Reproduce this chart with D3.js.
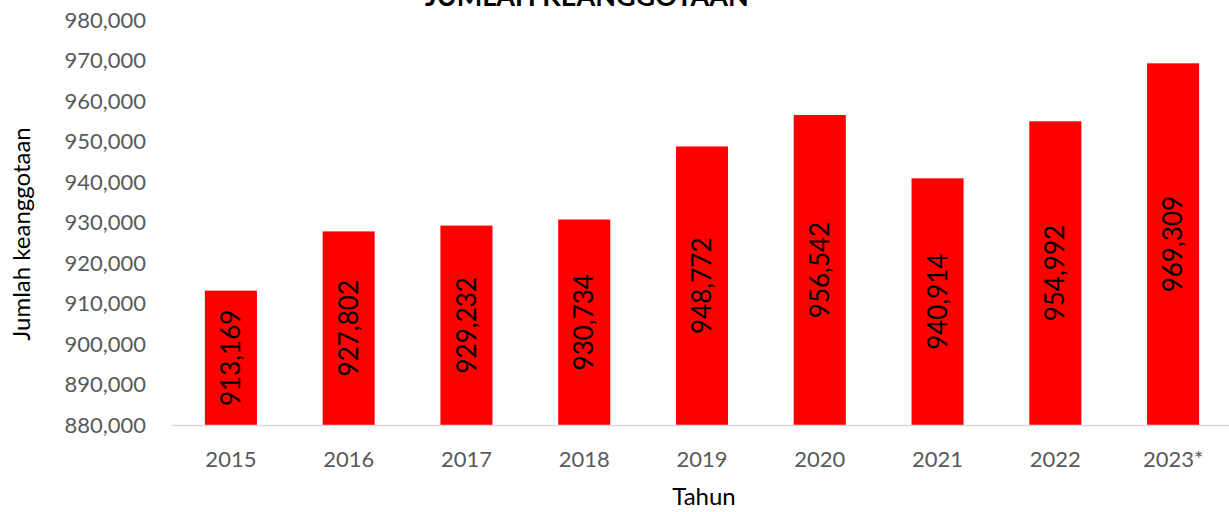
<!DOCTYPE html>
<html><head><meta charset="utf-8">
<script src="https://cdn.jsdelivr.net/npm/d3@7"></script>
<style>body{margin:0;background:#fff;overflow:hidden}svg{display:block}</style>
</head><body><svg id="c" width="1229" height="512"></svg>
<script>
const categories = ["2015","2016","2017","2018","2019","2020","2021","2022","2023*"];
const values = [913169, 927802, 929232, 930734, 948772, 956542, 940914, 954992, 969309];
const yTicks = [880000, 890000, 900000, 910000, 920000, 930000, 940000, 950000, 960000, 970000, 980000];
const title = "JUMLAH KEANGGOTAAN";
const yTitle = "Jumlah keanggotaan";
const xTitle = "Tahun";

const svg = d3.select("#c");
const font = "Lato, 'Open Sans', sans-serif";
const x = d3.scaleBand().domain(categories).range([172, 1232]).paddingInner(0.558).paddingOuter(0.279);
const y = d3.scaleLinear().domain([880000, 980000]).range([425, 20]);

svg.append("text").attr("x", 587).attr("y", 6).attr("text-anchor", "middle")
  .attr("font-family", font).attr("font-weight", "bold").attr("font-size", 27).attr("fill", "#000").text(title);

const ya = svg.append("g").attr("transform", "translate(172,0)")
  .call(d3.axisLeft(y).tickValues(yTicks).tickFormat(d3.format(",")).tickSize(0).tickPadding(26));
ya.select(".domain").remove();
ya.selectAll("text").attr("font-family", font).attr("font-size", 22).attr("fill", "#595959");

svg.selectAll("rect.bar").data(values).join("rect").attr("class", "bar")
  .attr("x", (d, i) => x(categories[i])).attr("width", x.bandwidth())
  .attr("y", d => y(d)).attr("height", d => y(880000) - y(d)).attr("fill", "#ff0000");

const xa = svg.append("g").attr("transform", "translate(0,425)")
  .call(d3.axisBottom(x).tickSize(0).tickPadding(26));
xa.select(".domain").attr("stroke", "#d9d9d9").attr("stroke-width", 1.5);
xa.selectAll("text").attr("font-family", font).attr("font-size", 22).attr("fill", "#595959");

svg.selectAll("text.val").data(values).join("text").attr("class", "val")
  .attr("transform", (d, i) => `translate(${x(categories[i]) + x.bandwidth() / 2},${(y(d) + y(880000)) / 2}) rotate(-90)`)
  .attr("text-anchor", "middle").attr("dy", "0.35em")
  .attr("font-family", font).attr("font-size", 26).attr("fill", "#000")
  .text(d => d3.format(",")(d));

svg.append("text").attr("transform", "translate(22,234) rotate(-90)").attr("text-anchor", "middle")
  .attr("dy", "0.35em").attr("font-family", font).attr("font-size", 24).attr("fill", "#000").text(yTitle);
svg.append("text").attr("x", 704).attr("y", 505).attr("text-anchor", "middle")
  .attr("font-family", font).attr("font-size", 24).attr("fill", "#000").text(xTitle);
</script></body></html>
